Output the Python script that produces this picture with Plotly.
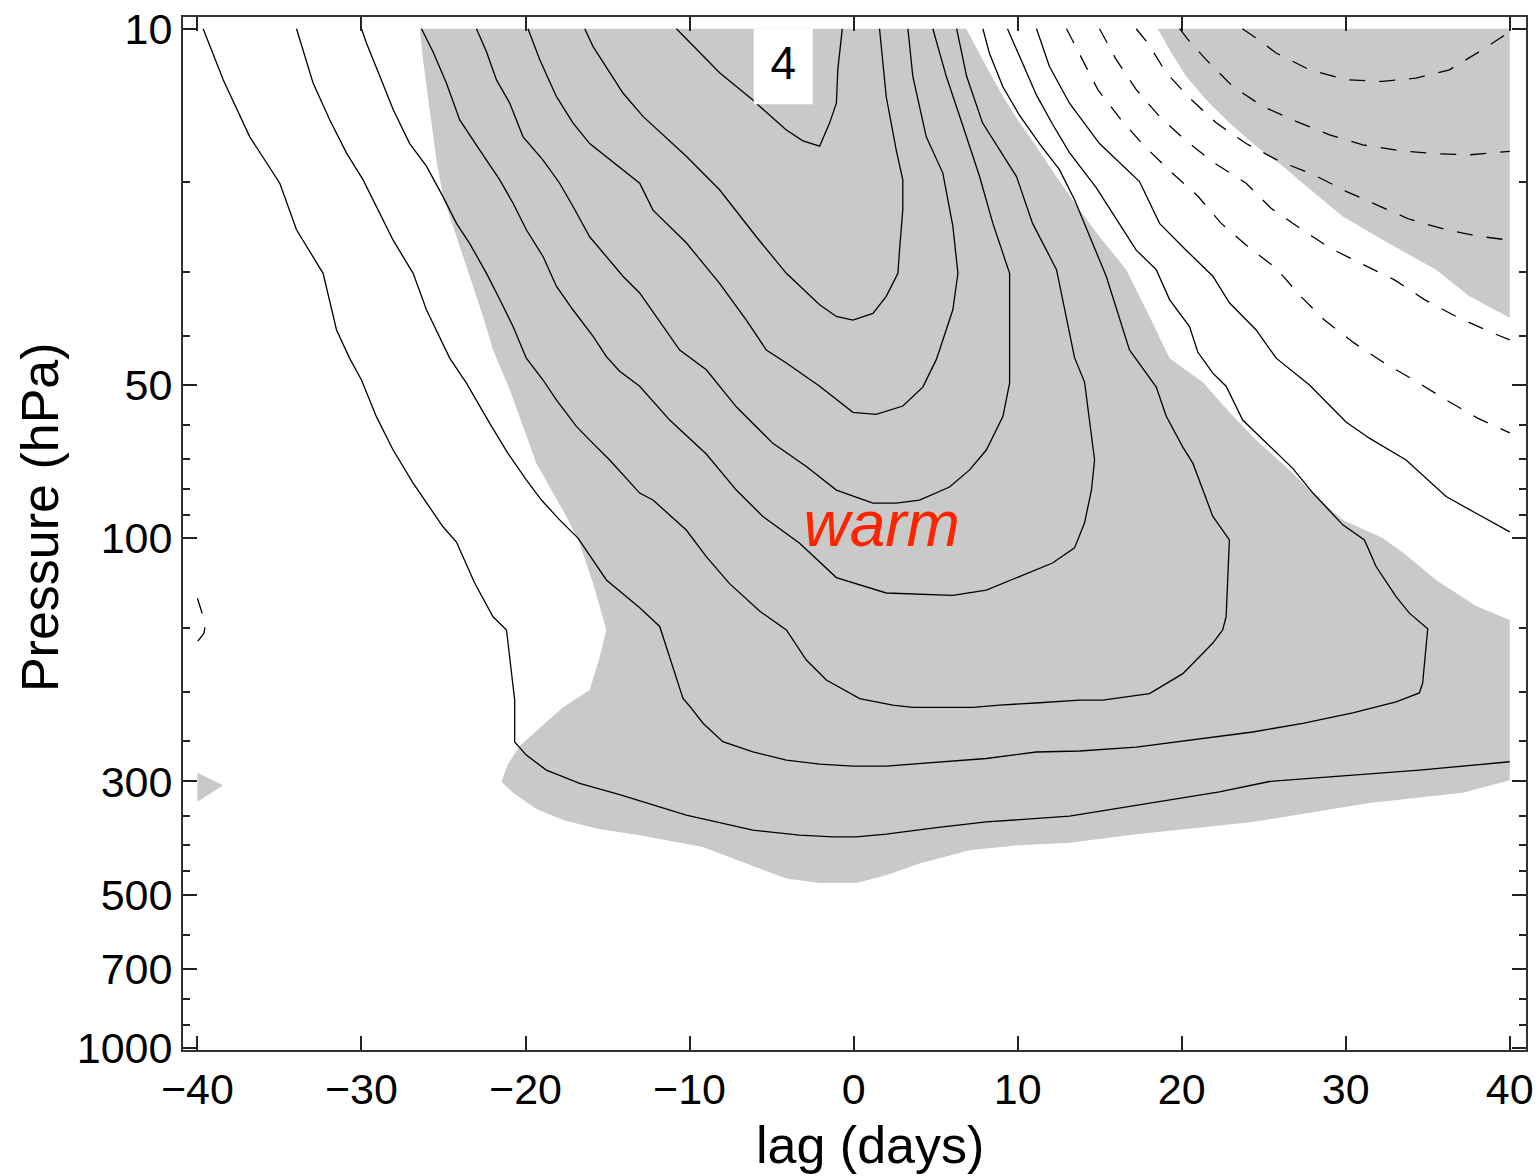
import plotly.graph_objects as go

# ---------------------------------------------------------------
# Lag–pressure composite: contours as (lag [days], pressure [hPa])
# ---------------------------------------------------------------

# Positive contours (solid), from the innermost maximum outwards
c_level4 = [(-10.8, 10), (-8.17, 12.2), (-6.14, 13.8), (-5.73, 14.2), (-4.1, 15.8), (-3.09, 16.6),
            (-2.07, 17.0), (-1.46, 15.3), (-1.05, 14.0), (-0.96, 12.0), (-0.69, 10)]

c_pos2 = [(-16.39, 10), (-15.89, 10.83), (-14.06, 13.37), (-12.84, 14.86), (-10.2, 17.8), (-8.17, 20.7),
          (-5.93, 25.6), (-4.1, 30.2), (-2.07, 34.8), (-1.05, 36.7), (-0.04, 37.3), (1.18, 36.2),
          (1.99, 33.5), (2.7, 30.2), (2.8, 27.2), (3.0, 22.6), (3.0, 19.8), (2.6, 17.3), (1.99, 13.6),
          (1.58, 10)]

c_pos3 = [(-19.85, 10), (-19.13, 11.5), (-18.12, 13.58), (-17.11, 15.3), (-16.09, 16.8), (-14.06, 18.9),
          (-13.04, 20.1), (-12.23, 22.7), (-10.2, 26.3), (-8.17, 31.6), (-6.54, 37.3), (-5.32, 42.7),
          (-4.1, 45.3), (-2.07, 50.3), (-0.04, 56.6), (1.38, 57.1), (3.0, 55.0), (4.22, 50.5),
          (5.04, 44.6), (5.24, 42.7), (6.05, 35.6), (6.36, 30.2), (6.05, 24.4), (5.44, 19.2),
          (4.43, 16.3), (3.61, 12.4), (3.31, 10)]

c_pos4 = [(-22.99, 10), (-22.38, 11.1), (-21.77, 12.6), (-20.96, 14.0), (-20.15, 16.3), (-18.93, 18.1),
          (-17.92, 20.1), (-17.11, 22.3), (-16.09, 25.6), (-15.07, 28.0), (-14.06, 30.6), (-13.04, 33.0),
          (-10.6, 42.7), (-8.98, 46.7), (-7.15, 55.2), (-4.92, 65.1), (-2.88, 72.3), (-1.05, 80.4),
          (1.18, 85.3), (2.6, 85.3), (4.02, 84.1), (5.85, 79.3), (7.07, 73.4), (8.09, 67.1),
          (9.1, 57.7), (9.51, 49.6), (9.51, 42.7), (9.51, 30.2), (8.49, 24.1), (7.68, 19.5),
          (6.66, 15.5), (5.65, 12.4), (4.83, 10)]

c_pos5 = [(-26.34, 10), (-25.64, 11.1), (-24.82, 12.8), (-24.01, 15.1), (-22.79, 17.3), (-21.57, 19.8),
          (-20.76, 22.0), (-19.95, 24.8), (-18.93, 28.0), (-18.12, 32.0), (-17.11, 35.6), (-15.89, 40.1),
          (-15.07, 44.0), (-14.26, 47.0), (-13.04, 50.3), (-11.21, 58.6), (-8.98, 68.3), (-7.15, 80.4),
          (-5.53, 90.6), (-3.29, 102.2), (-1.05, 119.4), (1.99, 128.0), (6.05, 129.4), (8.09, 126.3),
          (12.13, 111.8), (13.47, 104.4), (14.08, 93.2), (14.5, 80.4), (14.69, 70.2), (14.38, 58.6),
          (14.08, 49.4), (13.47, 44.2), (12.37, 29.7), (10.91, 24.1), (9.93, 19.5), (7.86, 15.3),
          (6.89, 12.4), (6.28, 10)]

c_pos6 = [(-30.0, 10), (-29.7, 10.67), (-28.88, 12.4), (-28.07, 14.4), (-27.06, 16.8), (-26.04, 18.6),
          (-25.03, 21.35), (-24.21, 24.1), (-23.4, 26.4), (-22.38, 30.2), (-21.57, 34.0), (-20.76, 38.4),
          (-19.95, 44.3), (-18.93, 48.9), (-18.12, 53.5), (-16.9, 60.3), (-15.89, 65.1), (-14.87, 70.2),
          (-13.04, 81.5), (-12.23, 84.1), (-10.2, 96.3), (-8.98, 108.6), (-7.56, 122.7), (-5.73, 138.9),
          (-4.1, 151.3), (-2.88, 173.3), (-1.66, 189.7), (0.37, 206.3), (2.39, 212.4), (3.61, 214.7),
          (7.27, 214.7), (8.9, 212.4), (11.33, 210.2), (13.77, 207.7), (15.19, 207.7), (18.04, 201.6),
          (20.07, 184.3), (21.9, 160.5), (22.5, 151.3), (22.71, 142.5), (22.91, 100.7), (21.9, 90.6),
          (20.68, 71.2), (20.07, 66.2), (19.06, 57.6), (18.45, 50.5), (16.82, 42.7), (15.4, 30.6),
          (13.47, 21.66), (12.55, 18.9), (11.33, 16.8), (10.12, 14.8), (9.1, 13.0), (8.29, 11.2),
          (7.88, 10)]

c_pos7 = [(-33.96, 10), (-32.95, 12.78), (-31.93, 15.1), (-30.91, 17.54), (-29.9, 19.8), (-28.88, 23.0),
          (-28.07, 26.0), (-26.85, 30.2), (-26.04, 35.6), (-24.62, 44.3), (-23.6, 49.6), (-22.18, 59.5),
          (-21.07, 68.1), (-19.95, 76.8), (-19.03, 84.1), (-17.92, 92.0), (-16.8, 99.9), (-15.89, 110.3),
          (-15.07, 120.7), (-13.04, 136.9), (-11.82, 148.9), (-10.4, 206.1), (-9.99, 213.5), (-9.18, 230.6),
          (-7.97, 250.6), (-6.14, 262.5), (-4.1, 272.3), (-2.07, 277.3), (-0.04, 279.8), (1.99, 279.8),
          (4.43, 275.8), (8.09, 270.4), (11.13, 262.6), (13.77, 261.4), (17.23, 256.9), (21.29, 247.0),
          (24.33, 239.9), (27.38, 230.7), (30.43, 220.1), (33.07, 209.3), (34.49, 201.1), (34.69, 192.3),
          (35.0, 150.5), (33.88, 140.2), (33.07, 130.1), (31.85, 113.6), (31.14, 100.7), (29.82, 94.1),
          (27.99, 81.4), (26.77, 72.9), (24.94, 64.1), (23.72, 58.6), (22.71, 50.3), (21.9, 47.4),
          (20.98, 43.1), (20.48, 38.4), (19.26, 34.0), (18.45, 29.7), (17.23, 27.2), (15.8, 23.0),
          (14.79, 20.5), (13.16, 17.5), (12.13, 15.4), (11.15, 13.5), (10.12, 11.35), (9.38, 10)]

# Outermost positive contour: western/lower branch and the separate upper-east branch
c_pos8_west = [(-39.65, 10), (-38.43, 12.59), (-36.81, 16.3), (-34.98, 20.1), (-33.96, 24.8), (-32.34, 30.2),
               (-31.52, 39.0), (-30.71, 44.4), (-30.0, 48.9), (-29.09, 57.7), (-28.07, 67.1), (-26.86, 77.8),
               (-26.04, 85.1), (-25.03, 94.9), (-24.21, 101.7), (-23.1, 122.4), (-21.98, 142.5),
               (-21.16, 151.3), (-20.66, 207.7), (-20.66, 251.0), (-19.95, 266.3), (-18.73, 285.0),
               (-16.7, 302.6), (-14.26, 318.5), (-10.2, 349.2), (-6.14, 373.8), (-3.29, 382.3),
               (-1.26, 385.2), (0.16, 385.2), (1.99, 380.6), (5.04, 369.4), (8.09, 360.2), (13.16, 350.8),
               (17.23, 333.9), (22.3, 314.3), (25.35, 300.0), (29.41, 293.5), (34.49, 285.0), (40.0, 274.4)]

c_pos8_east = [(11.15, 10), (11.94, 11.86), (13.16, 14.0), (14.99, 16.8), (17.43, 19.95), (18.65, 24.1),
               (20.27, 27.2), (21.9, 30.6), (22.91, 34.5), (24.54, 39.0), (25.76, 44.3), (27.79, 50.0),
               (30.02, 59.1), (31.44, 63.6), (33.68, 70.2), (36.12, 82.8), (37.95, 89.3), (40.0, 97.1)]

# Negative contours (dashed)
c_neg1 = [(12.98, 10), (13.97, 11.5), (14.89, 13.17), (16.31, 15.1), (17.73, 17.0), (19.36, 19.1),
          (20.98, 21.3), (22.41, 24.1), (24.03, 26.75), (25.76, 29.5), (27.18, 33.3), (28.7, 37.3),
          (30.53, 41.4), (32.36, 45.3), (34.29, 49.2), (36.12, 53.5), (38.04, 58.1), (40.0, 62.1)]

c_neg2 = [(14.99, 10), (16.01, 11.5), (17.23, 13.17), (18.65, 14.87), (20.27, 16.6), (22.0, 18.35),
          (23.93, 20.1), (25.45, 22.5), (27.18, 24.6), (29.01, 26.9), (31.04, 29.0), (32.97, 31.1),
          (34.8, 34.0), (36.73, 36.7), (38.76, 39.3), (40.0, 40.8)]

c_neg3 = [(17.23, 10), (17.93, 10.67), (19.06, 12.2), (20.48, 13.67), (22.1, 15.3), (23.93, 16.8),
          (25.96, 18.2), (27.99, 19.3), (30.02, 20.85), (31.85, 22.15), (33.88, 23.65), (36.12, 24.8),
          (38.15, 25.55), (40.0, 26.0)]

c_neg4 = [(19.87, 10), (20.48, 10.59), (21.49, 11.5), (23.11, 12.98), (24.94, 14.2), (26.98, 15.2),
          (29.01, 16.15), (31.04, 16.9), (33.27, 17.34), (35.51, 17.6), (37.54, 17.68), (40.0, 17.4)]

c_neg5 = [(23.7, 10), (24.54, 10.43), (25.76, 11.16), (27.79, 12.04), (30.02, 12.59), (32.25, 12.69),
          (34.29, 12.5), (36.32, 12.04), (38.35, 10.99), (40.0, 10.14)]

c_neg_west = [(-40.0, 131.1), (-39.65, 142.5), (-39.55, 150.0), (-39.61, 153.7), (-40.0, 159.4)]

# Shaded (significant) regions
shade_warm = [(-26.45, 10), (6.87, 10), (8.09, 11.86), (9.1, 13.57), (10.12, 15.3), (11.13, 17.0),
              (12.35, 19.5), (13.77, 22.65), (14.99, 25.6), (16.62, 29.7), (18.04, 36.7), (19.26, 44.3),
              (21.29, 49.4), (22.91, 56.6), (24.54, 64.1), (26.57, 73.4), (28.2, 82.8), (29.82, 92.0),
              (32.25, 99.9), (33.47, 106.5), (35.51, 120.7), (37.95, 135.8), (40.0, 144.6), (40.0, 298.2),
              (37.13, 315.6), (31.44, 330.6), (24.33, 360.2), (17.23, 380.6), (13.16, 395.5), (10.12, 400.0),
              (7.07, 409.2), (4.02, 434.6), (1.99, 458.2), (0.16, 474.6), (-2.07, 474.6), (-4.1, 465.0),
              (-6.54, 434.6), (-9.18, 403.3), (-13.04, 382.3), (-15.68, 371.0), (-17.71, 357.2),
              (-19.34, 339.8), (-20.76, 315.6), (-21.47, 300.5), (-21.07, 277.3), (-20.35, 255.6),
              (-19.13, 235.6), (-17.71, 214.6), (-16.09, 198.5), (-15.48, 171.1), (-15.07, 151.3),
              (-15.89, 122.4), (-16.7, 102.2), (-17.51, 90.6), (-18.32, 81.5), (-19.34, 71.2),
              (-20.15, 60.3), (-20.96, 51.1), (-21.98, 42.7), (-22.59, 36.7), (-23.4, 30.6),
              (-24.21, 25.5), (-25.03, 21.35), (-25.43, 18.1), (-25.84, 14.4), (-26.25, 11.5)]

shade_cold = [(18.54, 10), (19.26, 11.0), (20.27, 12.4), (21.69, 14.0), (22.91, 15.3), (24.54, 17.0),
              (26.16, 18.6), (27.38, 20.1), (29.82, 23.35), (32.25, 25.96), (35.51, 29.73), (37.54, 33.5),
              (40.0, 36.9), (40.0, 10)]

shade_west = [(-40.0, 288.4), (-38.43, 305.0), (-40.0, 328.9)]

# Contour label box and its value, and the region label
label_box_lag = [-6.09, -2.49]
label_box_p = [10.0, 14.06]
label_value = "4"
label_pos = (-4.29, 11.9)
region_text = "warm"
region_pos = (1.71, 96.3)

lag_ticks = [-40, -30, -20, -10, 0, 10, 20, 30, 40]
p_ticks = [10, 50, 100, 300, 500, 700, 1000]
p_minor = [20, 30, 40, 60, 70, 80, 90, 150, 200, 250, 350, 400, 450, 600, 800, 900]

SHADE = "#c9c9c9"
FONT = "Liberation Sans, Arial, Helvetica, sans-serif"

fig = go.Figure()


def xs(pts):
    return [p[0] for p in pts]


def ys(pts):
    return [p[1] for p in pts]


def add_shade(pts):
    fig.add_trace(go.Scatter(x=xs(pts), y=ys(pts), mode="lines", fill="toself",
                             fillcolor=SHADE, line=dict(width=0), hoverinfo="skip",
                             showlegend=False))


def add_contour(pts, dashed=False):
    fig.add_trace(go.Scatter(x=xs(pts), y=ys(pts), mode="lines",
                             line=dict(color="black", width=1.3,
                                       dash="16px,14px" if dashed else "solid"),
                             hoverinfo="skip", showlegend=False))


for region in (shade_warm, shade_cold, shade_west):
    add_shade(region)

for c in (c_level4, c_pos2, c_pos3, c_pos4, c_pos5, c_pos6, c_pos7, c_pos8_west, c_pos8_east):
    add_contour(c)

for c in (c_neg1, c_neg2, c_neg3, c_neg4, c_neg5, c_neg_west):
    add_contour(c, dashed=True)

# white box behind the contour value
bx = [label_box_lag[0], label_box_lag[1], label_box_lag[1], label_box_lag[0]]
by = [label_box_p[0], label_box_p[0], label_box_p[1], label_box_p[1]]
fig.add_trace(go.Scatter(x=bx, y=by, mode="lines", fill="toself", fillcolor="white",
                         line=dict(width=0), hoverinfo="skip", showlegend=False))
fig.add_trace(go.Scatter(x=[label_pos[0]], y=[label_pos[1]], mode="text", text=[label_value],
                         textposition="middle center",
                         textfont=dict(family=FONT, size=46, color="black"),
                         hoverinfo="skip", showlegend=False))

fig.add_trace(go.Scatter(x=[region_pos[0]], y=[region_pos[1]], mode="text", text=[region_text],
                         textposition="middle center",
                         textfont=dict(family=FONT, size=64, color="#ff2400", style="italic"),
                         hoverinfo="skip", showlegend=False))

axis_common = dict(showgrid=False, zeroline=False, showline=True, linewidth=2, linecolor="#333333",
                   mirror="ticks", ticks="inside", ticklen=14, tickwidth=1.5, tickcolor="#222222",
                   automargin=False,
                   tickfont=dict(family=FONT, size=43, color="black"))

fig.update_xaxes(range=[-40.88, 40.99], tickmode="array", tickvals=lag_ticks,
                 ticktext=[("\u2212" + str(-v)) if v < 0 else str(v) for v in lag_ticks],
                 ticklabelstandoff=0, **axis_common)

fig.update_yaxes(type="log", range=[3.004, 0.977], tickmode="array", tickvals=p_ticks,
                 ticktext=[str(v) for v in p_ticks], ticklabelstandoff=0,
                 minor=dict(tickmode="array", tickvals=p_minor, ticks="inside", ticklen=7,
                            tickwidth=1.5, tickcolor="#222222", showgrid=False),
                 **axis_common)

fig.update_layout(
    width=1540, height=1176,
    margin=dict(l=183, r=14, t=17, b=126),
    plot_bgcolor="white", paper_bgcolor="white",
    showlegend=False,
    font=dict(family=FONT, color="black"),
    annotations=[
        dict(text="lag (days)", xref="paper", yref="paper", x=0.5113, y=-0.0915,
             xanchor="center", yanchor="middle", showarrow=False,
             font=dict(family=FONT, size=52, color="black")),
        dict(text="Pressure (hPa)", xref="paper", yref="paper", x=-0.1064, y=0.516,
             xanchor="center", yanchor="middle", textangle=-90, showarrow=False,
             font=dict(family=FONT, size=52, color="black")),
    ],
)

fig.write_html("out.html")
